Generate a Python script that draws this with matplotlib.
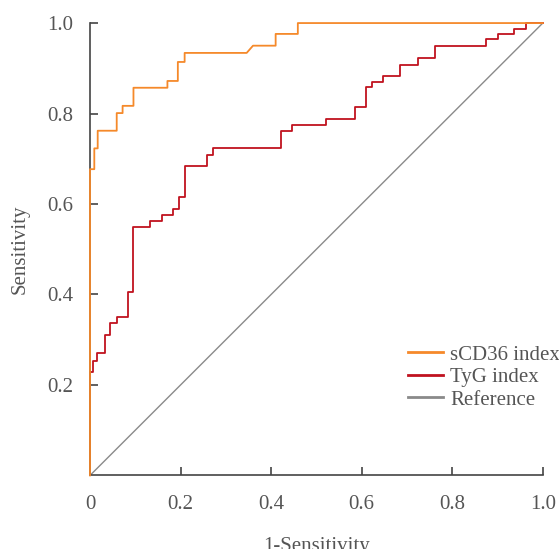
import matplotlib
matplotlib.use("Agg")
import matplotlib.pyplot as plt

# ROC corner points
scd36_fpr = [0, 0, 0.0095, 0.0095, 0.017, 0.017, 0.059, 0.059, 0.072, 0.072,
             0.096, 0.096, 0.171, 0.171, 0.194, 0.194, 0.209, 0.209, 0.346,
             0.360, 0.410, 0.410, 0.459, 0.459, 1.0]
scd36_tpr = [0, 0.677, 0.677, 0.723, 0.723, 0.762, 0.762, 0.801, 0.801, 0.817,
             0.817, 0.857, 0.857, 0.872, 0.872, 0.914, 0.914, 0.934, 0.934,
             0.950, 0.950, 0.976, 0.976, 1.0, 1.0]

# TyG: x where each step rises, and the level it rises to
tyg_step_x = [0, 0.0075, 0.016, 0.033, 0.044, 0.059, 0.083, 0.096, 0.133,
              0.158, 0.183, 0.196, 0.210, 0.258, 0.271, 0.422, 0.447, 0.522,
              0.585, 0.609, 0.623, 0.647, 0.684, 0.724, 0.762, 0.874, 0.901,
              0.937, 0.962, 1.0]
tyg_step_y = [0, 0.229, 0.254, 0.271, 0.310, 0.337, 0.351, 0.406, 0.549,
              0.563, 0.575, 0.590, 0.616, 0.684, 0.709, 0.723, 0.762, 0.775,
              0.788, 0.815, 0.858, 0.869, 0.883, 0.908, 0.922, 0.949, 0.964,
              0.976, 0.987, 1.0]

ref_x = [0, 1]
ref_y = [0, 1]

x_ticks = [0, 0.2, 0.4, 0.6, 0.8, 1.0]
x_ticklabels = ["0", "0.2", "0.4", "0.6", "0.8", "1.0"]
y_ticks = [0.2, 0.4, 0.6, 0.8, 1.0]
y_ticklabels = ["0.2", "0.4", "0.6", "0.8", "1.0"]

plt.rcParams["font.family"] = ["Liberation Serif", "DejaVu Serif"]
TEXT = "#555555"
AXIS = "#444444"
FS = 15

fig = plt.figure(figsize=(5.59, 5.49), dpi=100)
ax = fig.add_axes([0.161, 0.134, 0.810, 0.824])

ax.plot(scd36_fpr, scd36_tpr, color="#f5892a", lw=1.3, label="sCD36 index",
        zorder=3, clip_on=False)
ax.step(tyg_step_x, tyg_step_y, where="pre", color="#c0121f", lw=1.3,
        label="TyG index", zorder=2, clip_on=False)
ax.plot(ref_x, ref_y, color="#8a8a8a", lw=1.0, label="Reference", zorder=1)

ax.set_xlim(0, 1)
ax.set_ylim(0, 1)
ax.set_xticks(x_ticks)
ax.set_xticklabels(x_ticklabels)
ax.set_yticks(y_ticks)
ax.set_yticklabels(y_ticklabels)
ax.tick_params(direction="in", length=6, width=1.2, color=AXIS,
               labelcolor=TEXT, labelsize=FS)
ax.tick_params(axis="y", pad=12)
ax.tick_params(axis="x", pad=14)
for side in ("top", "right"):
    ax.spines[side].set_visible(False)
for side in ("left", "bottom"):
    ax.spines[side].set_color(AXIS)
    ax.spines[side].set_linewidth(1.2)

ax.set_xlabel("1-Sensitivity", fontsize=FS, color=TEXT, labelpad=17)
ax.set_ylabel("Sensitivity", fontsize=FS, color=TEXT, labelpad=13)

leg = ax.legend(loc="upper left", bbox_to_anchor=(0.702, 0.288),
                frameon=False, fontsize=FS, handlelength=1.68,
                handletextpad=0.34, labelspacing=0.14, borderpad=0,
                borderaxespad=0)
for t in leg.get_texts():
    t.set_color(TEXT)
for h in leg.get_lines():
    h.set_linewidth(2)

fig.savefig("out.png", dpi=100, facecolor="white")
plt.close(fig)
